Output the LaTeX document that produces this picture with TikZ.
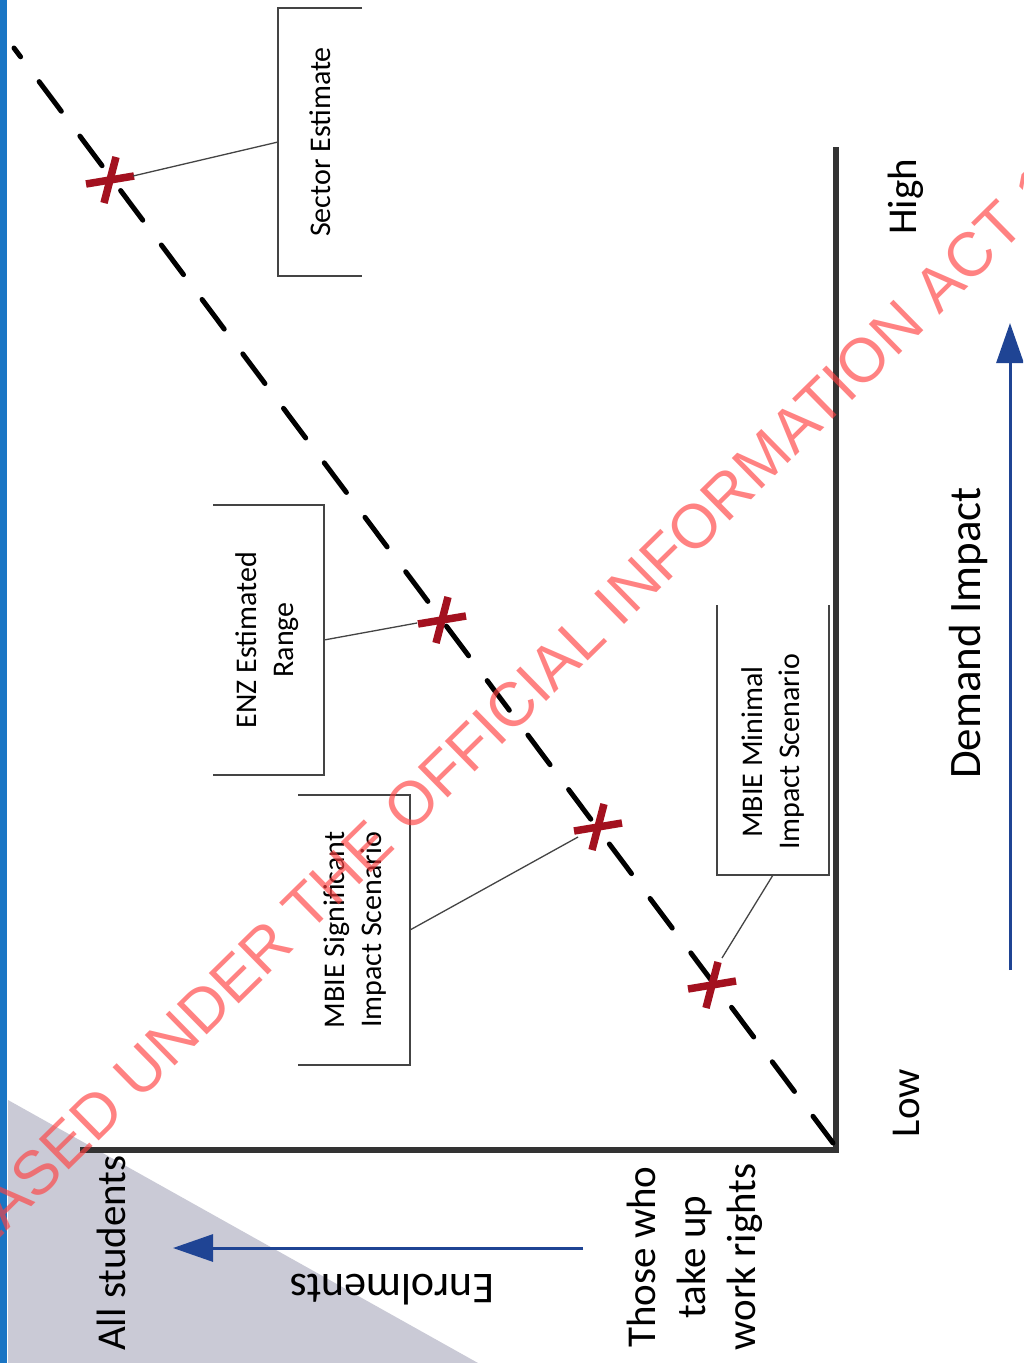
\documentclass[tikz,border=0pt]{standalone}
\usepackage{fontspec}
\setmainfont{Carlito}
\newfontfamily\wmfont{Liberation Sans}
\usetikzlibrary{arrows.meta}
\definecolor{axisgray}{HTML}{333333}
\definecolor{xred}{HTML}{A3111F}
\definecolor{arrowblue}{HTML}{1F4494}
\definecolor{barblue}{HTML}{1A75C4}
\definecolor{trigray}{HTML}{CACAD6}
\definecolor{boxgray}{HTML}{444444}
\definecolor{wmred}{HTML}{FF4040}
\begin{document}
\begin{tikzpicture}[x=1pt,y=-1pt,
  axis/.style={line width=5.5pt, draw=axisgray, line join=miter},
  trend/.style={line width=5pt, draw=black, dash pattern=on 37pt off 31pt, dash phase=26pt, line cap=round},
  xmarkstroke/.style={line width=7.5pt, draw=xred},
  callout/.style={line width=1.4pt, draw=boxgray},
  leader/.style={line width=1.3pt, draw=boxgray},
  boxnode/.style={draw=none, inner sep=0pt, outer sep=0pt, rectangle},
  lbl/.style={font=\fontsize{30}{37}\selectfont, align=center, rotate=90, inner sep=0pt},
  big/.style={font=\fontsize{41}{50}\selectfont, align=center, rotate=90, inner sep=0pt},
  flow/.style={line width=3pt, draw=arrowblue, -{Triangle[length=40pt,width=27pt]}},
  redx/.pic={\draw[xmarkstroke] (-24,4) -- (24,-4); \draw[xmarkstroke] (6,-23) -- (-6,23);}
]
\useasboundingbox (0,0) rectangle (1023,1363);
\clip (0,0) rectangle (1023,1363);
\fill[white] (0,0) rectangle (1023,1363);

% background shapes
\fill[trigray] (8,1100) -- (8,1363) -- (478,1363) -- cycle;
\fill[barblue] (0,0) rectangle (7,1363);

% axes
\coordinate (ytop) at (836,147);
\coordinate (origin) at (836,1150);
\coordinate (xleft) at (80,1150);
\draw[axis] (ytop) -- (origin) -- (xleft);

% trend line
\coordinate (t0) at (14,48);
\coordinate (t1) at (833,1143);
\draw[trend] (t0) -- (t1);

% callout boxes
\node[boxnode, minimum width=84pt, minimum height=268pt] (sector) at (320,142) {};
\node[boxnode, minimum width=111pt, minimum height=270pt] (enz) at (268.5,640) {};
\node[boxnode, minimum width=112pt, minimum height=270pt] (sig) at (354,930) {};
\node[boxnode, minimum width=112pt, minimum height=270pt] (minb) at (773,740) {};
\draw[callout] (sector.north east) -- (sector.north west) -- (sector.south west) -- (sector.south east);
\draw[callout] (enz.north west) -- (enz.north east) -- (enz.south east) -- (enz.south west);
\draw[callout] (sig.north west) -- (sig.north east) -- (sig.south east) -- (sig.south west);
\draw[callout] (minb.north west) -- (minb.south west) -- (minb.south east) -- (minb.north east);

% labels in boxes
\node[lbl] (sectort) at (320,142) {Sector Estimate};
\node[lbl] (enzt) at (267,640) {ENZ Estimated\\Range};
\node[lbl] (sigt) at (355,930) {MBIE Significant\\Impact Scenario};
\node[lbl] (mint) at (773,752) {MBIE Minimal\\Impact Scenario};

% markers
\coordinate (m1) at (110,180);
\coordinate (m2) at (442,620);
\coordinate (m3) at (598,827);
\coordinate (m4) at (712,985);
\pic at (m1) {redx};
\pic at (m2) {redx};
\pic at (m3) {redx};
\pic at (m4) {redx};

% leaders
\draw[leader] ([shift={(23,-4)}]m1) -- (sector.west);
\draw[leader] ([shift={(-25,3)}]m2) -- (enz.east);
\draw[leader] ([shift={(-20,10)}]m3) -- (sig.east);
\draw[leader] ([shift={(10,-27)}]m4) -- (minb.south);

% axis labels
\node[big] (high) at (906,197) {High};
\node[big] (low) at (906,1103) {Low};
\node[big, font=\fontsize{45}{54}\selectfont] (demand) at (968,633) {Demand Impact};
\node[big] (allst) at (111,1253) {All students};
\node[big] (those) at (695,1257) {Those who\\take up\\work rights};
\node[inner sep=0pt, rotate=180, font=\fontsize{44}{52}\selectfont] (enrol) at (392,1290) {Enrolments};

% arrows
\coordinate (dA) at (1010,970);
\coordinate (dB) at (1010,323);
\draw[flow] (dA) -- (dB);
\coordinate (eA) at (583,1248);
\coordinate (eB) at (173,1248);
\draw[flow] (eA) -- (eB);

% watermark
\node[rotate=44.5, inner sep=0pt, text=wmred, text opacity=0.65, font=\wmfont\fontsize{62}{62}\selectfont] (wm) at (500,717) {RELEASED UNDER THE OFFICIAL INFORMATION ACT 1982};
\end{tikzpicture}
\end{document}
